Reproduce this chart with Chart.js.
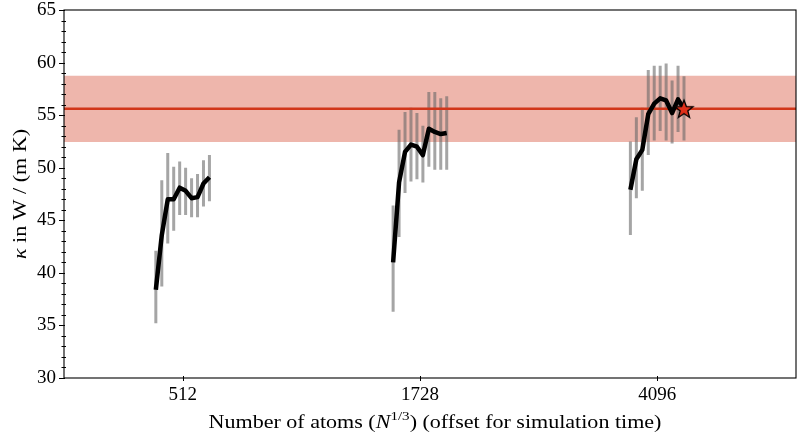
<!DOCTYPE html>
<html lang="en">
<head>
    <meta charset="UTF-8">
    <title>Thermal conductivity vs. system size</title>
    <script src="https://cdn.jsdelivr.net/npm/chart.js"></script>
    <style>
        body { margin: 0; background: #fff; }
        canvas { display: block; }
    </style>
</head>
<body>
    <canvas id="kappaChart" width="797" height="439"></canvas>

    <script>
        // system sizes shown on the x axis
        const tickLabels = ['512', '1728', '4096'];
        // simulation time index within each block
        const timeSteps = [0, 1, 2, 3, 4, 5, 6, 7, 8, 9];

        // running estimate of kappa and its error bars, per system size
        const kappa512 = [38.4, 43.6, 47.0, 47.0, 48.1, 47.8, 47.1, 47.2, 48.5, 49.1];
        const low512   = [35.2, 38.7, 42.8, 44.0, 45.5, 45.5, 45.3, 45.3, 46.3, 46.8];
        const high512  = [42.1, 48.8, 51.4, 50.1, 50.6, 50.0, 49.0, 49.4, 50.7, 51.2];

        const kappa1728 = [41.0, 48.6, 51.5, 52.2, 52.0, 51.2, 53.7, 53.4, 53.2, 53.3];
        const low1728   = [36.3, 43.4, 47.6, 48.7, 48.9, 48.6, 50.1, 49.8, 49.8, 49.8];
        const high1728  = [46.4, 53.6, 55.3, 55.7, 55.2, 54.0, 57.2, 57.2, 56.6, 56.8];

        const kappa4096 = [47.9, 50.8, 51.7, 55.1, 56.1, 56.6, 56.4, 55.2, 56.5, 55.6];
        const low4096   = [43.6, 47.1, 47.8, 51.2, 52.6, 53.5, 52.6, 52.3, 53.4, 52.6];
        const high4096  = [52.5, 54.8, 55.7, 59.3, 59.7, 59.7, 59.9, 58.3, 59.7, 58.7];

        // reference value with its uncertainty band
        const kappaRef = [55.6];
        const kappaRefErr = [3.15];

        const X_MIN = -0.5, X_MAX = 2.585;
        const OFFSET = 0.0251;   // x shift per time step around each tick

        const groups = [
            { mean: kappa512, low: low512, high: high512 },
            { mean: kappa1728, low: low1728, high: high1728 },
            { mean: kappa4096, low: low4096, high: high4096 }
        ];

        const xAt = (g, t) => g + (t - (timeSteps.length - 1) / 2) * OFFSET;

        // error bars as one broken line: low -> high, then a gap
        const barPoints = [];
        groups.forEach((grp, g) => {
            timeSteps.forEach((t, i) => {
                barPoints.push({ x: xAt(g, t), y: grp.low[i] });
                barPoints.push({ x: xAt(g, t), y: grp.high[i] });
                barPoints.push({ x: xAt(g, t), y: null });
            });
        });

        const meanLines = groups.map((grp, g) => ({
            data: timeSteps.map((t, i) => ({ x: xAt(g, t), y: grp.mean[i] })),
            borderColor: '#000',
            borderWidth: 4.5,
            borderJoinStyle: 'round',
            borderCapStyle: 'butt',
            pointRadius: 0,
            tension: 0,
            order: 1
        }));

        // filled star marker for the final 4096 value
        const star = document.createElement('canvas');
        star.width = 24; star.height = 24;
        (function () {
            const c = star.getContext('2d');
            c.beginPath();
            for (let k = 0; k < 10; k++) {
                const r = k % 2 === 0 ? 9.5 : 4.0;
                const a = -Math.PI / 2 + k * Math.PI / 5;
                const px = 12 + r * Math.cos(a), py = 12.8 + r * Math.sin(a);
                k === 0 ? c.moveTo(px, py) : c.lineTo(px, py);
            }
            c.closePath();
            c.fillStyle = '#e0301a';
            c.fill();
            c.lineWidth = 1.3;
            c.lineJoin = 'miter';
            c.strokeStyle = '#000';
            c.stroke();
        })();

        const last = timeSteps.length - 1;

        const refLo = kappaRef[0] - kappaRefErr[0];
        const refHi = kappaRef[0] + kappaRefErr[0];

        // tick marks, frame and rich axis titles
        const axesDecor = {
            id: 'axesDecor',
            afterDraw(chart) {
                const { ctx, chartArea: a, scales } = chart;
                ctx.save();
                ctx.strokeStyle = '#000';
                ctx.lineWidth = 1.1;
                ctx.strokeRect(a.left, a.top, a.right - a.left, a.bottom - a.top);

                ctx.lineWidth = 1;
                for (let v = 30; v <= 65; v++) {
                    const y = Math.round(scales.y.getPixelForValue(v)) + 0.5;
                    ctx.beginPath();
                    if (v % 5 === 0) {
                        ctx.moveTo(a.left - 5, y); ctx.lineTo(a.left + 1, y);
                    } else {
                        ctx.moveTo(a.left - 2.5, y); ctx.lineTo(a.left + 2, y);
                    }
                    ctx.stroke();
                }
                [0, 1, 2].forEach(v => {
                    const x = Math.round(scales.x.getPixelForValue(v)) + 0.5;
                    ctx.beginPath();
                    ctx.moveTo(x, a.bottom - 2); ctx.lineTo(x, a.bottom + 3);
                    ctx.stroke();
                });

                ctx.fillStyle = '#000';
                ctx.textBaseline = 'alphabetic';
                const base = 'Liberation Serif';
                const stretch = 1.16;
                const drawRich = (parts, cx, cy) => {
                    let w = 0;
                    parts.forEach(p => { ctx.font = p.font; w += ctx.measureText(p.text).width; });
                    ctx.save();
                    ctx.translate(cx, cy);
                    ctx.scale(stretch, 1);
                    let x = -w / 2;
                    parts.forEach(p => {
                        ctx.font = p.font;
                        ctx.fillText(p.text, x, -(p.dy || 0));
                        x += ctx.measureText(p.text).width;
                    });
                    ctx.restore();
                };

                drawRich([
                    { text: 'Number of atoms (', font: `19px "${base}"` },
                    { text: 'N', font: `italic 19px "${base}"` },
                    { text: '1/3', font: `13px "${base}"`, dy: 8 },
                    { text: ') (offset for simulation time)', font: `19px "${base}"` }
                ], 435, 428);

                ctx.translate(26, (a.top + a.bottom) / 2);
                ctx.rotate(-Math.PI / 2);
                drawRich([
                    { text: 'κ', font: `italic 19px "${base}"` },
                    { text: ' in W / (m K)', font: `19px "${base}"` }
                ], 0, 0);
                ctx.restore();
            }
        };

        new Chart(document.getElementById('kappaChart'), {
            type: 'line',
            data: {
                datasets: [
                    {
                        data: [{ x: X_MIN, y: refLo }, { x: X_MAX, y: refLo }],
                        borderWidth: 0, pointRadius: 0, order: 5
                    },
                    {
                        data: [{ x: X_MIN, y: refHi }, { x: X_MAX, y: refHi }],
                        borderWidth: 0, pointRadius: 0,
                        fill: { target: 0 },
                        backgroundColor: 'rgba(209, 54, 26, 0.36)',
                        order: 4
                    },
                    {
                        data: barPoints,
                        borderColor: 'rgba(105, 105, 105, 0.6)',
                        borderWidth: 3,
                        borderCapStyle: 'butt',
                        pointRadius: 0,
                        spanGaps: false,
                        order: 3
                    },
                    {
                        data: [{ x: X_MIN, y: kappaRef[0] }, { x: X_MAX, y: kappaRef[0] }],
                        borderColor: '#d1361a',
                        borderWidth: 2.5,
                        pointRadius: 0,
                        order: 2
                    },
                    ...meanLines,
                    {
                        data: [{ x: xAt(2, timeSteps[last]), y: kappa4096[last] }],
                        showLine: false,
                        pointStyle: star,
                        pointRadius: 10,
                        order: 0
                    }
                ]
            },
            options: {
                responsive: false,
                animation: false,
                layout: {
                    autoPadding: false,
                    padding: { top: 10, right: 1, left: 0, bottom: 0 }
                },
                plugins: {
                    legend: { display: false },
                    tooltip: { enabled: false }
                },
                scales: {
                    x: {
                        type: 'linear',
                        min: X_MIN,
                        max: X_MAX,
                        afterBuildTicks: s => { s.ticks = [{ value: 0 }, { value: 1 }, { value: 2 }]; },
                        afterFit: s => {
                            s.height = 61;
                            s.paddingLeft = 0; s.paddingRight = 0;
                        },
                        grid: { display: false, drawTicks: false },
                        border: { display: false },
                        ticks: {
                            autoSkip: false,
                            maxRotation: 0,
                            padding: 6,
                            color: '#000',
                            font: { family: 'Liberation Serif', size: 19 },
                            callback: v => tickLabels[Math.round(v)]
                        }
                    },
                    y: {
                        min: 30,
                        max: 65,
                        afterFit: s => {
                            s.width = 64;
                            s.paddingTop = 0; s.paddingBottom = 0;
                        },
                        grid: { display: false, drawTicks: false },
                        border: { display: false },
                        ticks: {
                            stepSize: 5,
                            padding: 8,
                            color: '#000',
                            font: { family: 'Liberation Serif', size: 19 }
                        }
                    }
                }
            },
            plugins: [axesDecor]
        });
    </script>
</body>
</html>
